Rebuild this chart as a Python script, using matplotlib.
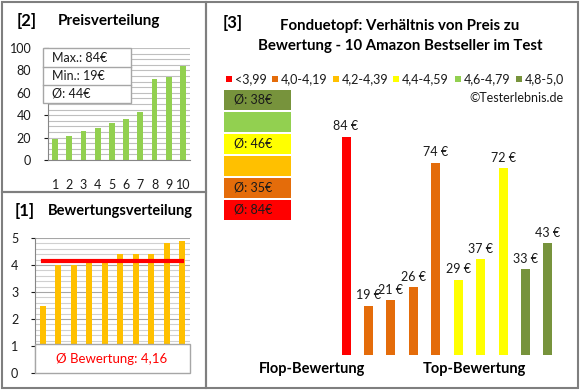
import matplotlib
matplotlib.use("Agg")
import matplotlib.pyplot as plt
import numpy as np
from matplotlib.patches import Rectangle

# data
prices_sorted = [19, 21, 26, 29, 33, 37, 43, 72, 74, 84]
ratings_sorted = [2.5, 4.0, 4.0, 4.1, 4.1, 4.4, 4.4, 4.4, 4.8, 4.9]
avg_rating = 4.16

# products in rating order (flop -> top)
product_prices = [84, 19, 21, 26, 74, 29, 37, 72, 33, 43]
product_class = [0, 1, 1, 1, 1, 3, 3, 3, 5, 5]

class_labels = ["<3,99", "4,0-4,19", "4,2-4,39", "4,4-4,59", "4,6-4,79", "4,8-5,0"]
class_colors = ["#FF0000", "#E46C0A", "#FFC000", "#FFFF00", "#92D050", "#77933C"]

W, H = 580, 390
plt.rcParams["font.family"] = ["Lato", "DejaVu Sans"]
fig = plt.figure(figsize=(W / 100, H / 100), dpi=100)


def px_axes(x0, y0, x1, y1, z=1):
    ax = fig.add_axes([x0 / W, 1 - y1 / H, (x1 - x0) / W, (y1 - y0) / H])
    ax.set_zorder(z)
    ax.set_facecolor("none")
    return ax


grid_c = "#BFBFBF"
axis_c = "#868686"
tick_c = "#1a1a1a"

# ---- panel 2: Preisverteilung
ax2 = px_axes(48, 48, 190, 160)
ax2.bar(np.arange(10), prices_sorted, width=0.42, color="#92D050", zorder=2)
ax2.set_xlim(-0.5, 9.5)
ax2.set_ylim(0, 100)
ax2.set_yticks(range(0, 101, 20))
ax2.set_yticks(range(0, 101, 5), minor=True)
ax2.grid(axis="y", which="both", color=grid_c, lw=0.8)
ax2.set_axisbelow(True)
ax2.set_xticks(np.arange(10))
ax2.set_xticklabels([str(i) for i in range(1, 11)])
ax2.tick_params(axis="x", length=0, pad=14, labelsize=9, colors=tick_c)
ax2.tick_params(axis="y", which="major", length=3, pad=9, labelsize=9, colors=tick_c)
ax2.tick_params(axis="y", which="minor", length=0)
for s in ["top", "right"]:
    ax2.spines[s].set_visible(False)
for s in ["left", "bottom"]:
    ax2.spines[s].set_color(axis_c)

# ---- panel 1: Bewertungsverteilung
ax1 = px_axes(35, 238, 190, 373)
ax1.bar(np.arange(10), ratings_sorted, width=0.39, color="#FFC000", zorder=2)
ax1.plot([0, 9], [avg_rating, avg_rating], color="#FF0000", lw=3, zorder=3)
ax1.set_xlim(-0.5, 9.5)
ax1.set_ylim(0, 5)
ax1.set_yticks(range(0, 6))
ax1.set_yticks(np.arange(0, 5.01, 0.2), minor=True)
ax1.grid(axis="y", which="major", color="#A6A6A6", lw=0.8)
ax1.grid(axis="y", which="minor", color="#D0D0D0", lw=0.8)
ax1.set_axisbelow(True)
ax1.set_xticks([])
ax1.tick_params(axis="y", which="major", length=3, pad=9, labelsize=9, colors=tick_c)
ax1.tick_params(axis="y", which="minor", length=0)
for s in ["top", "right", "bottom"]:
    ax1.spines[s].set_visible(False)
ax1.spines["left"].set_color(axis_c)

# ---- panel 3: price vs rating
ax3 = px_axes(334.8, 95, 559.2, 355)
bar_cols = [class_colors[c] for c in product_class]
bars = ax3.bar(np.arange(10), product_prices, width=0.4, color=bar_cols)
for b, p in zip(bars, product_prices):
    ax3.annotate("%d €" % p, (b.get_x() + b.get_width() / 2, b.get_height()),
                 xytext=(0, 3), textcoords="offset points",
                 ha="center", va="bottom", fontsize=9, color="#1a1a1a")
ax3.set_xlim(-0.5, 9.5)
ax3.set_ylim(0, 100)
ax3.axis("off")

# ---- overlay: borders, titles, boxes
fg = px_axes(0, 0, W, H, z=10)
fg.set_xlim(0, W)
fg.set_ylim(H, 0)
fg.axis("off")

border = "#7F7F7F"
for x0, y0, x1, y1 in [(1.5, 2, 206, 192), (1.5, 192, 206, 388), (206, 2, 577.5, 388)]:
    fg.add_patch(Rectangle((x0, y0), x1 - x0, y1 - y0, fill=False, ec=border, lw=1.5))

# panel 2 texts
fg.text(17, 21, "[2]", fontsize=12, fontweight="bold", va="center")
fg.text(58, 21, "Preisverteilung", fontsize=11, fontweight="bold", va="center")
fg.add_patch(Rectangle((43, 48), 88, 55, fc="white", ec="#A6A6A6", lw=1))
fg.plot([43, 131], [67, 67], color="#A6A6A6", lw=1)
fg.plot([43, 131], [85, 85], color="#A6A6A6", lw=1)
info = ["Max.: %d€" % max(prices_sorted), "Min.: %d€" % min(prices_sorted),
        "Ø: %d€" % round(np.mean(prices_sorted))]
for i, t in enumerate(info):
    fg.text(52, 58 + i * 18, t, fontsize=9, va="center", color="#1a1a1a")

# panel 1 texts
fg.text(15, 211, "[1]", fontsize=12, fontweight="bold", va="center")
fg.text(48, 211, "Bewertungsverteilung", fontsize=10.5, fontweight="bold", va="center")
fg.add_patch(Rectangle((35, 344), 155, 29, fc="white", ec="#A6A6A6", lw=1))
fg.text(112, 359, "Ø Bewertung: %s" % ("%.2f" % avg_rating).replace(".", ","),
        fontsize=9.5, color="#FF0000", ha="center", va="center")

# panel 3 texts
fg.text(223, 23, "[3]", fontsize=12, fontweight="bold", va="center")
fg.text(400, 26, "Fonduetopf: Verhältnis von Preis zu", fontsize=10.8,
        fontweight="bold", ha="center", va="center")
fg.text(400, 46, "Bewertung - 10 Amazon Bestseller im Test", fontsize=10.8,
        fontweight="bold", ha="center", va="center")

sq_x = [226, 272, 333, 393, 455, 516]
for i, lab in enumerate(class_labels):
    fg.add_patch(Rectangle((sq_x[i], 76), 6, 6, fc=class_colors[i], ec="none"))
    fg.text(sq_x[i] + 9, 79, lab, fontsize=9, va="center", color="#1a1a1a")
fg.text(563, 98, "©Testerlebnis.de", fontsize=9, ha="right", va="center", color="#1a1a1a")

# average-price blocks per rating class (top = best)
block_y = [90, 112, 134, 156, 178, 200]
for k, cls in enumerate(range(5, -1, -1)):
    y = block_y[k]
    fg.add_patch(Rectangle((224, y), 67, 20, fc=class_colors[cls], ec="none"))
    vals = [p for p, c in zip(product_prices, product_class) if c == cls]
    if vals:
        fg.text(234, y + 10, "Ø: %d€" % round(np.mean(vals)), fontsize=9,
                va="center", color="#1a1a1a")

fg.text(312, 369, "Flop-Bewertung", fontsize=10.5, fontweight="bold", ha="center", va="center")
fg.text(474, 369, "Top-Bewertung", fontsize=10.5, fontweight="bold", ha="center", va="center")

fig.savefig("out.png", dpi=100)
